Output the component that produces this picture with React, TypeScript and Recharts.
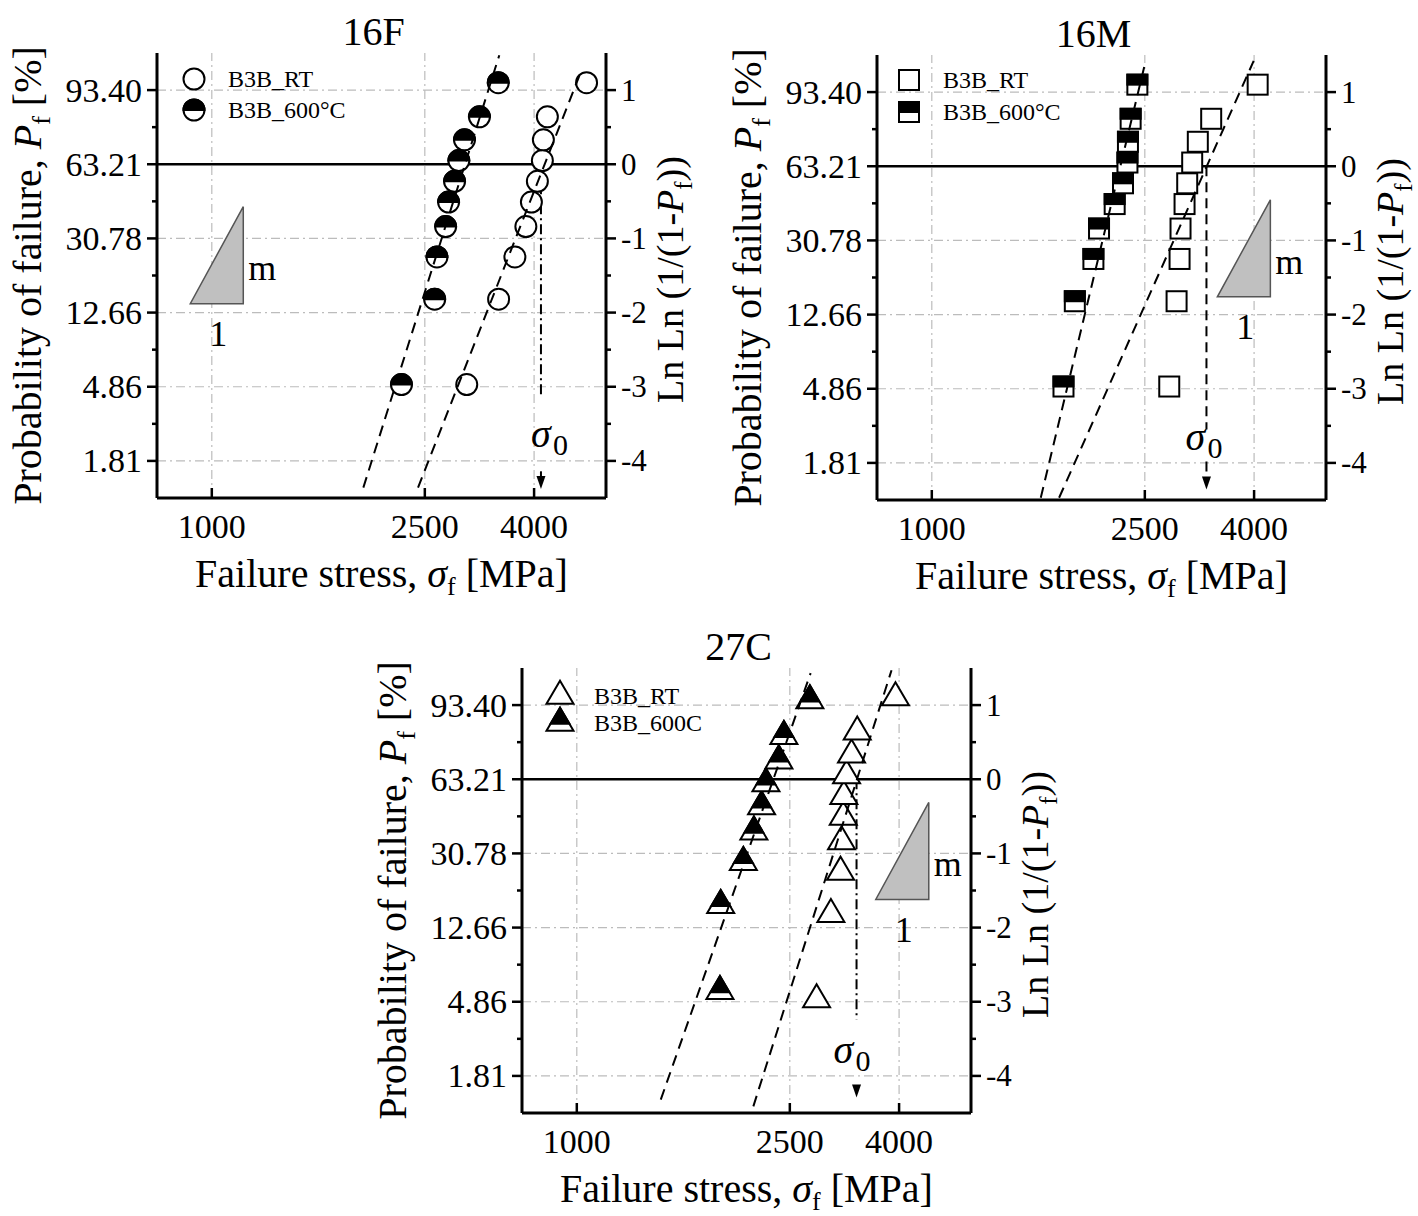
import React from "react";
import { ScatterChart, Scatter, XAxis, YAxis, ReferenceLine, ReferenceDot } from "recharts";

const SERIF = '"Liberation Serif", "Times New Roman", serif';

// ln ln(1/(1-Pf)) of the ranked specimens
const rank10 = [-2.97, -1.82, -1.25, -0.84, -0.51, -0.23, 0.05, 0.33, 0.64, 1.1];
const rank9 = [-2.86, -1.7, -1.12, -0.71, -0.37, -0.06, 0.25, 0.58, 1.06];

// failure stress [MPa], sorted
const f16Rt = [2994, 3434, 3683, 3861, 3954, 4057, 4145, 4163, 4235, 5013];
const f16Hot = [2261, 2608, 2634, 2734, 2769, 2841, 2894, 2965, 3162, 3429];
const m16Rt = [2777, 2866, 2903, 2915, 2966, 3000, 3065, 3140, 3326, 4062];
const m16Hot = [1762, 1850, 2004, 2053, 2196, 2276, 2320, 2325, 2352, 2421];
const c27Rt = [2805, 2983, 3110, 3123, 3146, 3154, 3191, 3260, 3341, 3938];
const c27Hot = [1851, 1857, 2047, 2142, 2214, 2256, 2385, 2437, 2725];

// weibull fit lines, end points (stress, ln ln)
const f16RtFit = [{ x: 2428, y: -4.36 }, { x: 4919, y: 1.29 }];
const f16HotFit = [{ x: 1919, y: -4.36 }, { x: 3444, y: 1.47 }];
const m16RtFit = [{ x: 1729, y: -4.47 }, { x: 3993, y: 1.42 }];
const m16HotFit = [{ x: 1598, y: -4.47 }, { x: 2509, y: 1.42 }];
const c27RtFit = [{ x: 2137, y: -4.41 }, { x: 3872, y: 1.47 }];
const c27HotFit = [{ x: 1435, y: -4.32 }, { x: 2734, y: 1.43 }];

// characteristic strength sigma_0 [MPa]
const f16Sigma0 = 4120;
const m16Sigma0 = 3259;
const c27Sigma0 = 3331;

// corner of the m / 1 slope triangle
const f16Slope = { x: 1145, y: -1.88 };
const m16Slope = { x: 4290, y: -1.76 };
const c27Slope = { x: 4545, y: -1.62 };

const xTicks = [1000, 2500, 4000];
const yMajor = [-4, -3, -2, -1, 0, 1];
const yMinor = [-3.5, -2.5, -1.5, -0.5, 0.5];
const pfLabels = ["1.81", "4.86", "12.66", "30.78", "63.21", "93.40"];
const lnLabels = ["-4", "-3", "-2", "-1", "0", "1"];

const toPoints = (xs: number[], ys: number[]) => xs.map((x, i) => ({ x, y: ys[i] }));

type Kind = "circle" | "square" | "triangle";

const Marker = ({ kind, hot, cx, cy }: { kind: Kind; hot: boolean; cx: number; cy: number }) => {
    if (kind === "circle") {
        const r = 10.5;
        return (
            <g>
                <circle cx={cx} cy={cy} r={r} fill="#fff" stroke="#000" strokeWidth={2} />
                {hot && <path d={`M${cx - r},${cy} A${r},${r} 0 0 1 ${cx + r},${cy} Z`} fill="#000" stroke="#000" strokeWidth={2} />}
            </g>
        );
    }
    if (kind === "square") {
        const h = 10;
        return (
            <g>
                <rect x={cx - h} y={cy - h} width={2 * h} height={2 * h} fill="#fff" stroke="#000" strokeWidth={2} />
                {hot && <rect x={cx - h} y={cy - h} width={2 * h} height={h} fill="#000" stroke="#000" strokeWidth={2} />}
            </g>
        );
    }
    // triangle drawn round its centroid
    const w = 27;
    const h = 23;
    const top = cy - (2 * h) / 3;
    const base = cy + h / 3;
    const f = 0.7;
    return (
        <g>
            <polygon points={`${cx},${top} ${cx - w / 2},${base} ${cx + w / 2},${base}`} fill="#fff" stroke="#000" strokeWidth={2} />
            {hot && (
                <polygon
                    points={`${cx},${top} ${cx - (f * w) / 2},${top + f * h} ${cx + (f * w) / 2},${top + f * h}`}
                    fill="#000"
                    stroke="#000"
                    strokeWidth={2}
                />
            )}
        </g>
    );
};

const LeftTick = (p: any) => {
    const i = yMajor.indexOf(p.payload.value);
    const len = i >= 0 ? 10 : 5;
    return (
        <g>
            <line x1={p.x - len} x2={p.x} y1={p.y} y2={p.y} stroke="#000" strokeWidth={2.5} />
            {i >= 0 && (
                <text x={p.x - 15} y={p.y} dy="0.34em" textAnchor="end" fontFamily={SERIF} fontSize={34} fill="#000">
                    {pfLabels[i]}
                </text>
            )}
        </g>
    );
};

const RightTick = (p: any) => {
    const i = yMajor.indexOf(p.payload.value);
    const len = i >= 0 ? 10 : 5;
    return (
        <g>
            <line x1={p.x} x2={p.x + len} y1={p.y} y2={p.y} stroke="#000" strokeWidth={2.5} />
            {i >= 0 && (
                <text x={p.x + 15} y={p.y} dy="0.34em" textAnchor="start" fontFamily={SERIF} fontSize={31} fill="#000">
                    {lnLabels[i]}
                </text>
            )}
        </g>
    );
};

const BottomTick = (p: any) => (
    <g>
        <line x1={p.x} x2={p.x} y1={p.y} y2={p.y - 10} stroke="#000" strokeWidth={2.5} />
        <text x={p.x} y={p.y + 40} textAnchor="middle" fontFamily={SERIF} fontSize={34} fill="#000">
            {p.payload.value}
        </text>
    </g>
);

interface Arrow {
    gapTop: number;
    gapBottom: number;
    tip: number;
    dash: string;
    labelY: number;
    labelDx: number;
}

interface PanelProps {
    left: number;
    top: number;
    title: string;
    kind: Kind;
    rt: { x: number; y: number }[];
    hot: { x: number; y: number }[];
    rtFit: { x: number; y: number }[];
    hotFit: { x: number; y: number }[];
    sigma0: number;
    arrow: Arrow;
    slope: { x: number; y: number };
    hotLabel: string;
    legendX: number;
    legendY: number[];
}

const W = 720;
const H = 600;
const margin = { top: 53, right: 54, bottom: 42, left: 57 };
const xDomain = [790, 5450];
const yDomain = [-4.5, 1.5];
const gridStyle = { stroke: "#bcbcbc", strokeWidth: 1.2, strokeDasharray: "9 4 2 4" };
const fitLine = { stroke: "#000", strokeWidth: 2, strokeDasharray: "11 7" };

const Panel = (props: PanelProps) => {
    const { kind, arrow } = props;
    const plotMidY = margin.top + (H - margin.top - margin.bottom - 60) / 2;
    const plotMidX = margin.left + 100 + (W - margin.left - margin.right - 160) / 2;
    return (
        <div style={{ position: "absolute", left: props.left, top: props.top, width: W, height: H }}>
            <ScatterChart width={W} height={H} margin={margin}>
                {xTicks.map((v) => (
                    <ReferenceLine key={`gx${v}`} x={v} {...gridStyle} />
                ))}
                {yMajor
                    .filter((v) => v !== 0)
                    .map((v) => (
                        <ReferenceLine key={`gy${v}`} y={v} {...gridStyle} />
                    ))}
                <ReferenceLine y={0} stroke="#000" strokeWidth={2.5} />
                <XAxis
                    type="number"
                    dataKey="x"
                    scale="log"
                    domain={xDomain}
                    allowDataOverflow
                    ticks={xTicks}
                    interval={0}
                    tick={BottomTick}
                    tickLine={false}
                    tickSize={0}
                    tickMargin={0}
                    height={60}
                    axisLine={{ stroke: "#000", strokeWidth: 3 }}
                />
                <XAxis
                    xAxisId="top"
                    orientation="top"
                    type="number"
                    scale="log"
                    domain={xDomain}
                    allowDataOverflow
                    tick={false}
                    tickLine={false}
                    height={0}
                    axisLine={{ stroke: "#000", strokeWidth: 3 }}
                />
                <YAxis
                    type="number"
                    dataKey="y"
                    domain={yDomain}
                    allowDataOverflow
                    ticks={[...yMajor, ...yMinor]}
                    interval={0}
                    tick={LeftTick}
                    tickLine={false}
                    tickSize={0}
                    tickMargin={0}
                    width={100}
                    axisLine={{ stroke: "#000", strokeWidth: 3 }}
                />
                <YAxis
                    yAxisId="r"
                    orientation="right"
                    type="number"
                    domain={yDomain}
                    allowDataOverflow
                    ticks={[...yMajor, ...yMinor]}
                    interval={0}
                    tick={RightTick}
                    tickLine={false}
                    tickSize={0}
                    tickMargin={0}
                    width={60}
                    axisLine={{ stroke: "#000", strokeWidth: 3 }}
                />
                <ReferenceLine
                    segment={[
                        { x: props.sigma0, y: 0 },
                        { x: props.sigma0, y: arrow.gapTop },
                    ]}
                    stroke="#000"
                    strokeWidth={2}
                    strokeDasharray={arrow.dash}
                />
                {arrow.gapBottom > arrow.tip + 0.2 && (
                    <ReferenceLine
                        segment={[
                            { x: props.sigma0, y: arrow.gapBottom },
                            { x: props.sigma0, y: arrow.tip + 0.1 },
                        ]}
                        stroke="#000"
                        strokeWidth={2}
                        strokeDasharray={arrow.dash}
                    />
                )}
                <ReferenceDot
                    x={props.sigma0}
                    y={arrow.tip}
                    r={1}
                    shape={(p: any) => (
                        <polygon points={`${p.cx - 4.5},${p.cy - 13} ${p.cx + 4.5},${p.cy - 13} ${p.cx},${p.cy}`} fill="#000" />
                    )}
                />
                <ReferenceDot
                    x={props.sigma0}
                    y={arrow.labelY}
                    r={1}
                    shape={(p: any) => (
                        <g>
                            <text x={p.cx + arrow.labelDx} y={p.cy} fontFamily={SERIF} fontStyle="italic" fontSize={40} fill="#000">
                                σ
                            </text>
                            <text x={p.cx + arrow.labelDx + 22} y={p.cy + 8} fontFamily={SERIF} fontSize={30} fill="#000">
                                0
                            </text>
                        </g>
                    )}
                />
                <ReferenceDot
                    x={props.slope.x}
                    y={props.slope.y}
                    r={1}
                    shape={(p: any) => (
                        <g>
                            <polygon
                                points={`${p.cx - 53},${p.cy} ${p.cx},${p.cy} ${p.cx},${p.cy - 97}`}
                                fill="#c0c0c0"
                                stroke="#555"
                                strokeWidth={1.5}
                            />
                            <text x={p.cx + 19} y={p.cy - 34} dy="0.3em" textAnchor="middle" fontFamily={SERIF} fontSize={36} fill="#000">
                                m
                            </text>
                            <text x={p.cx - 25} y={p.cy + 30} dy="0.35em" textAnchor="middle" fontFamily={SERIF} fontSize={36} fill="#000">
                                1
                            </text>
                        </g>
                    )}
                />
                <Scatter
                    data={props.rt}
                    isAnimationActive={false}
                    shape={(p: any) => <Marker kind={kind} hot={false} cx={p.cx} cy={p.cy} />}
                />
                <Scatter
                    data={props.hot}
                    isAnimationActive={false}
                    shape={(p: any) => <Marker kind={kind} hot cx={p.cx} cy={p.cy} />}
                />
                <Scatter data={props.rtFit} isAnimationActive={false} line={fitLine} shape={() => <g />} />
                <Scatter data={props.hotFit} isAnimationActive={false} line={fitLine} shape={() => <g />} />
            </ScatterChart>
            <svg width={W} height={H} style={{ position: "absolute", left: 0, top: 0, pointerEvents: "none" }} fontFamily={SERIF}>
                <text x={plotMidX - 8} y={45} textAnchor="middle" fontSize={40} fill="#000">
                    {props.title}
                </text>
                <text transform="rotate(-90)" x={-plotMidY} y={41} textAnchor="middle" fontSize={40} fill="#000">
                    Probability of failure, <tspan fontStyle="italic">P</tspan>
                    <tspan fontSize={26} dy={9}>f</tspan>
                    <tspan dy={-9}> [%]</tspan>
                </text>
                <text transform="rotate(-90)" x={-plotMidY - 4} y={683} textAnchor="middle" fontSize={38} fill="#000">
                    Ln Ln (1/(1-<tspan fontStyle="italic">P</tspan>
                    <tspan fontSize={25} dy={9}>f</tspan>
                    <tspan dy={-9}>))</tspan>
                </text>
                <text x={plotMidX} y={587} textAnchor="middle" fontSize={40} fill="#000">
                    Failure stress, <tspan fontStyle="italic">σ</tspan>
                    <tspan fontSize={26} dy={8}>f</tspan>
                    <tspan dy={-8}> [MPa]</tspan>
                </text>
                <Marker kind={kind} hot={false} cx={props.legendX} cy={props.legendY[0]} />
                <Marker kind={kind} hot cx={props.legendX} cy={props.legendY[1]} />
                <text x={props.legendX + 34} y={props.legendY[0]} dy="0.35em" fontSize={24} fill="#000">
                    B3B_RT
                </text>
                <text x={props.legendX + 34} y={props.legendY[1]} dy="0.35em" fontSize={24} fill="#000">
                    {props.hotLabel}
                </text>
            </svg>
        </div>
    );
};

const App: React.FC = () => (
    <div style={{ position: "absolute", left: 0, top: 0, width: 1418, height: 1216, background: "#fff", overflow: "hidden" }}>
        <Panel
            left={0}
            top={0}
            title="16F"
            kind="circle"
            rt={toPoints(f16Rt, rank10)}
            hot={toPoints(f16Hot, rank10)}
            rtFit={f16RtFit}
            hotFit={f16HotFit}
            sigma0={f16Sigma0}
            arrow={{ gapTop: -3.12, gapBottom: -4.14, tip: -4.38, dash: "10 4 2 4", labelY: -3.81, labelDx: -10 }}
            slope={f16Slope}
            hotLabel="B3B_600°C"
            legendX={194}
            legendY={[79, 110]}
        />
        <Panel
            left={720}
            top={2}
            title="16M"
            kind="square"
            rt={toPoints(m16Rt, rank10)}
            hot={toPoints(m16Hot, rank10)}
            rtFit={m16RtFit}
            hotFit={m16HotFit}
            sigma0={m16Sigma0}
            arrow={{ gapTop: -3.55, gapBottom: -3.98, tip: -4.36, dash: "10 6", labelY: -3.82, labelDx: -21 }}
            slope={m16Slope}
            hotLabel="B3B_600°C"
            legendX={189}
            legendY={[78, 110]}
        />
        <Panel
            left={365}
            top={615}
            title="27C"
            kind="triangle"
            rt={toPoints(c27Rt, rank10)}
            hot={toPoints(c27Hot, rank9)}
            rtFit={c27RtFit}
            hotFit={c27HotFit}
            sigma0={c27Sigma0}
            arrow={{ gapTop: -3.24, gapBottom: -4.09, tip: -4.29, dash: "10 4 2 4", labelY: -3.82, labelDx: -23 }}
            slope={c27Slope}
            hotLabel="B3B_600C"
            legendX={195}
            legendY={[81, 108]}
        />
    </div>
);

export default App;
